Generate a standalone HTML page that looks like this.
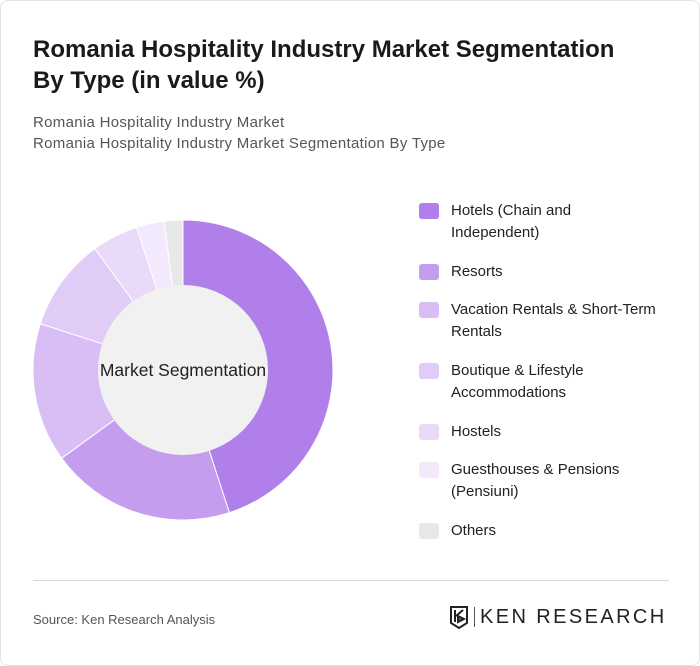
<!DOCTYPE html>
<html><head><meta charset="utf-8"><style>
body{margin:0;background:#fff;font-family:"Liberation Sans",sans-serif;}
#card{position:relative;width:698px;height:664px;border:1px solid #e3e3e3;border-radius:8px;background:#fff;overflow:hidden}
h1{position:absolute;left:32px;top:33px;margin:0;font-size:24px;line-height:31px;font-weight:bold;color:#1a1a1a;width:610px}
.sub{position:absolute;left:32px;font-size:15px;letter-spacing:0.3px;color:#555}
.leg{position:absolute;left:418px;display:flex;align-items:flex-start;font-size:15px;line-height:22px;color:#222}
.sw{width:20px;height:16px;border-radius:3px;margin-right:12px;margin-top:3px;flex:none}
</style></head><body>
<div id="card">
<h1>Romania Hospitality Industry Market Segmentation By Type (in value %)</h1>
<div class="sub" style="top:113px">Romania Hospitality Industry Market</div>
<div class="sub" style="top:134px">Romania Hospitality Industry Market Segmentation By Type</div>
<svg id="donut" width="700" height="666" style="position:absolute;left:0;top:0"></svg>
<div id="legend"></div>
<div style="position:absolute;left:32px;top:579px;width:636px;height:1px;background:#d6d6d6"></div>
<div style="position:absolute;left:32px;top:611px;font-size:13px;color:#555">Source: Ken Research Analysis</div>
<div style="position:absolute;left:448px;top:604px;display:flex;align-items:center">
<svg width="20" height="24" viewBox="0 0 20 24"><path d="M2 2h16v16l-8 5-8-5z" fill="none" stroke="#222" stroke-width="2"/><path d="M6 5v12M7 11l7-6M9 11l6 3-6 3z" stroke="#222" stroke-width="2" fill="#e03030"/></svg>
<div style="width:1px;height:20px;background:#555;margin:0 5px"></div>
<span style="font-size:20px;letter-spacing:2.4px;color:#222;font-family:'Liberation Sans',sans-serif">KEN RESEARCH</span>
</div>
</div>
<script>
const categories=["Hotels (Chain and Independent)","Resorts","Vacation Rentals & Short-Term Rentals","Boutique & Lifestyle Accommodations","Hostels","Guesthouses & Pensions (Pensiuni)","Others"];
const values=[45,20,15,10,5,3,2];
const colors=["#b07fea","#c59dee","#d8bef5","#e1cbf7","#e9dafa","#f2eafc","#e8e8e8"];
const legendLines=[["Hotels (Chain and","Independent)"],["Resorts"],["Vacation Rentals & Short-Term","Rentals"],["Boutique & Lifestyle","Accommodations"],["Hostels"],["Guesthouses & Pensions","(Pensiuni)"],["Others"]];
const NS="http://www.w3.org/2000/svg";
const svg=document.getElementById('donut');
const cx=182,cy=369,R=150,r=85;
const total=values.reduce((a,b)=>a+b,0);
function pt(a,rad){return [cx+rad*Math.sin(a),cy-rad*Math.cos(a)];}
let a0=0;
values.forEach((v,i)=>{
 const a1=a0+v/total*2*Math.PI;
 const [x0,y0]=pt(a0,R),[x1,y1]=pt(a1,R);
 const large=(a1-a0)>Math.PI?1:0;
 const p=document.createElementNS(NS,'path');
 p.setAttribute('d',`M${cx} ${cy}L${x0} ${y0}A${R} ${R} 0 ${large} 1 ${x1} ${y1}Z`);
 p.setAttribute('fill',colors[i]);
 p.setAttribute('stroke','#fff');p.setAttribute('stroke-width','1');
 
 
 svg.appendChild(p);
 a0=a1;
});
const c=document.createElementNS(NS,'circle');
c.setAttribute('cx',cx);c.setAttribute('cy',cy);c.setAttribute('r',r);c.setAttribute('fill','#f1f1f1');


svg.appendChild(c);
const t=document.createElementNS(NS,'text');
t.setAttribute('x',cx);t.setAttribute('y',cy+6);t.setAttribute('text-anchor','middle');
t.setAttribute('font-size','17.5');t.setAttribute('fill','#222');t.setAttribute('font-family','Liberation Sans, sans-serif');
t.textContent='Market Segmentation';


svg.appendChild(t);
const tops=[199,260,298,359,420,458,519];
const lg=document.getElementById('legend');
categories.forEach((cat,i)=>{
 const d=document.createElement('div');d.className='leg';d.style.top=tops[i]+'px';
 
 
 d.innerHTML=`<div class="sw" style="background:${colors[i]}"></div><div>${legendLines[i].map(s=>s.replace(/&/g,'&amp;')).join('<br>')}</div>`;
 lg.appendChild(d);
});
</script>
</body></html>
